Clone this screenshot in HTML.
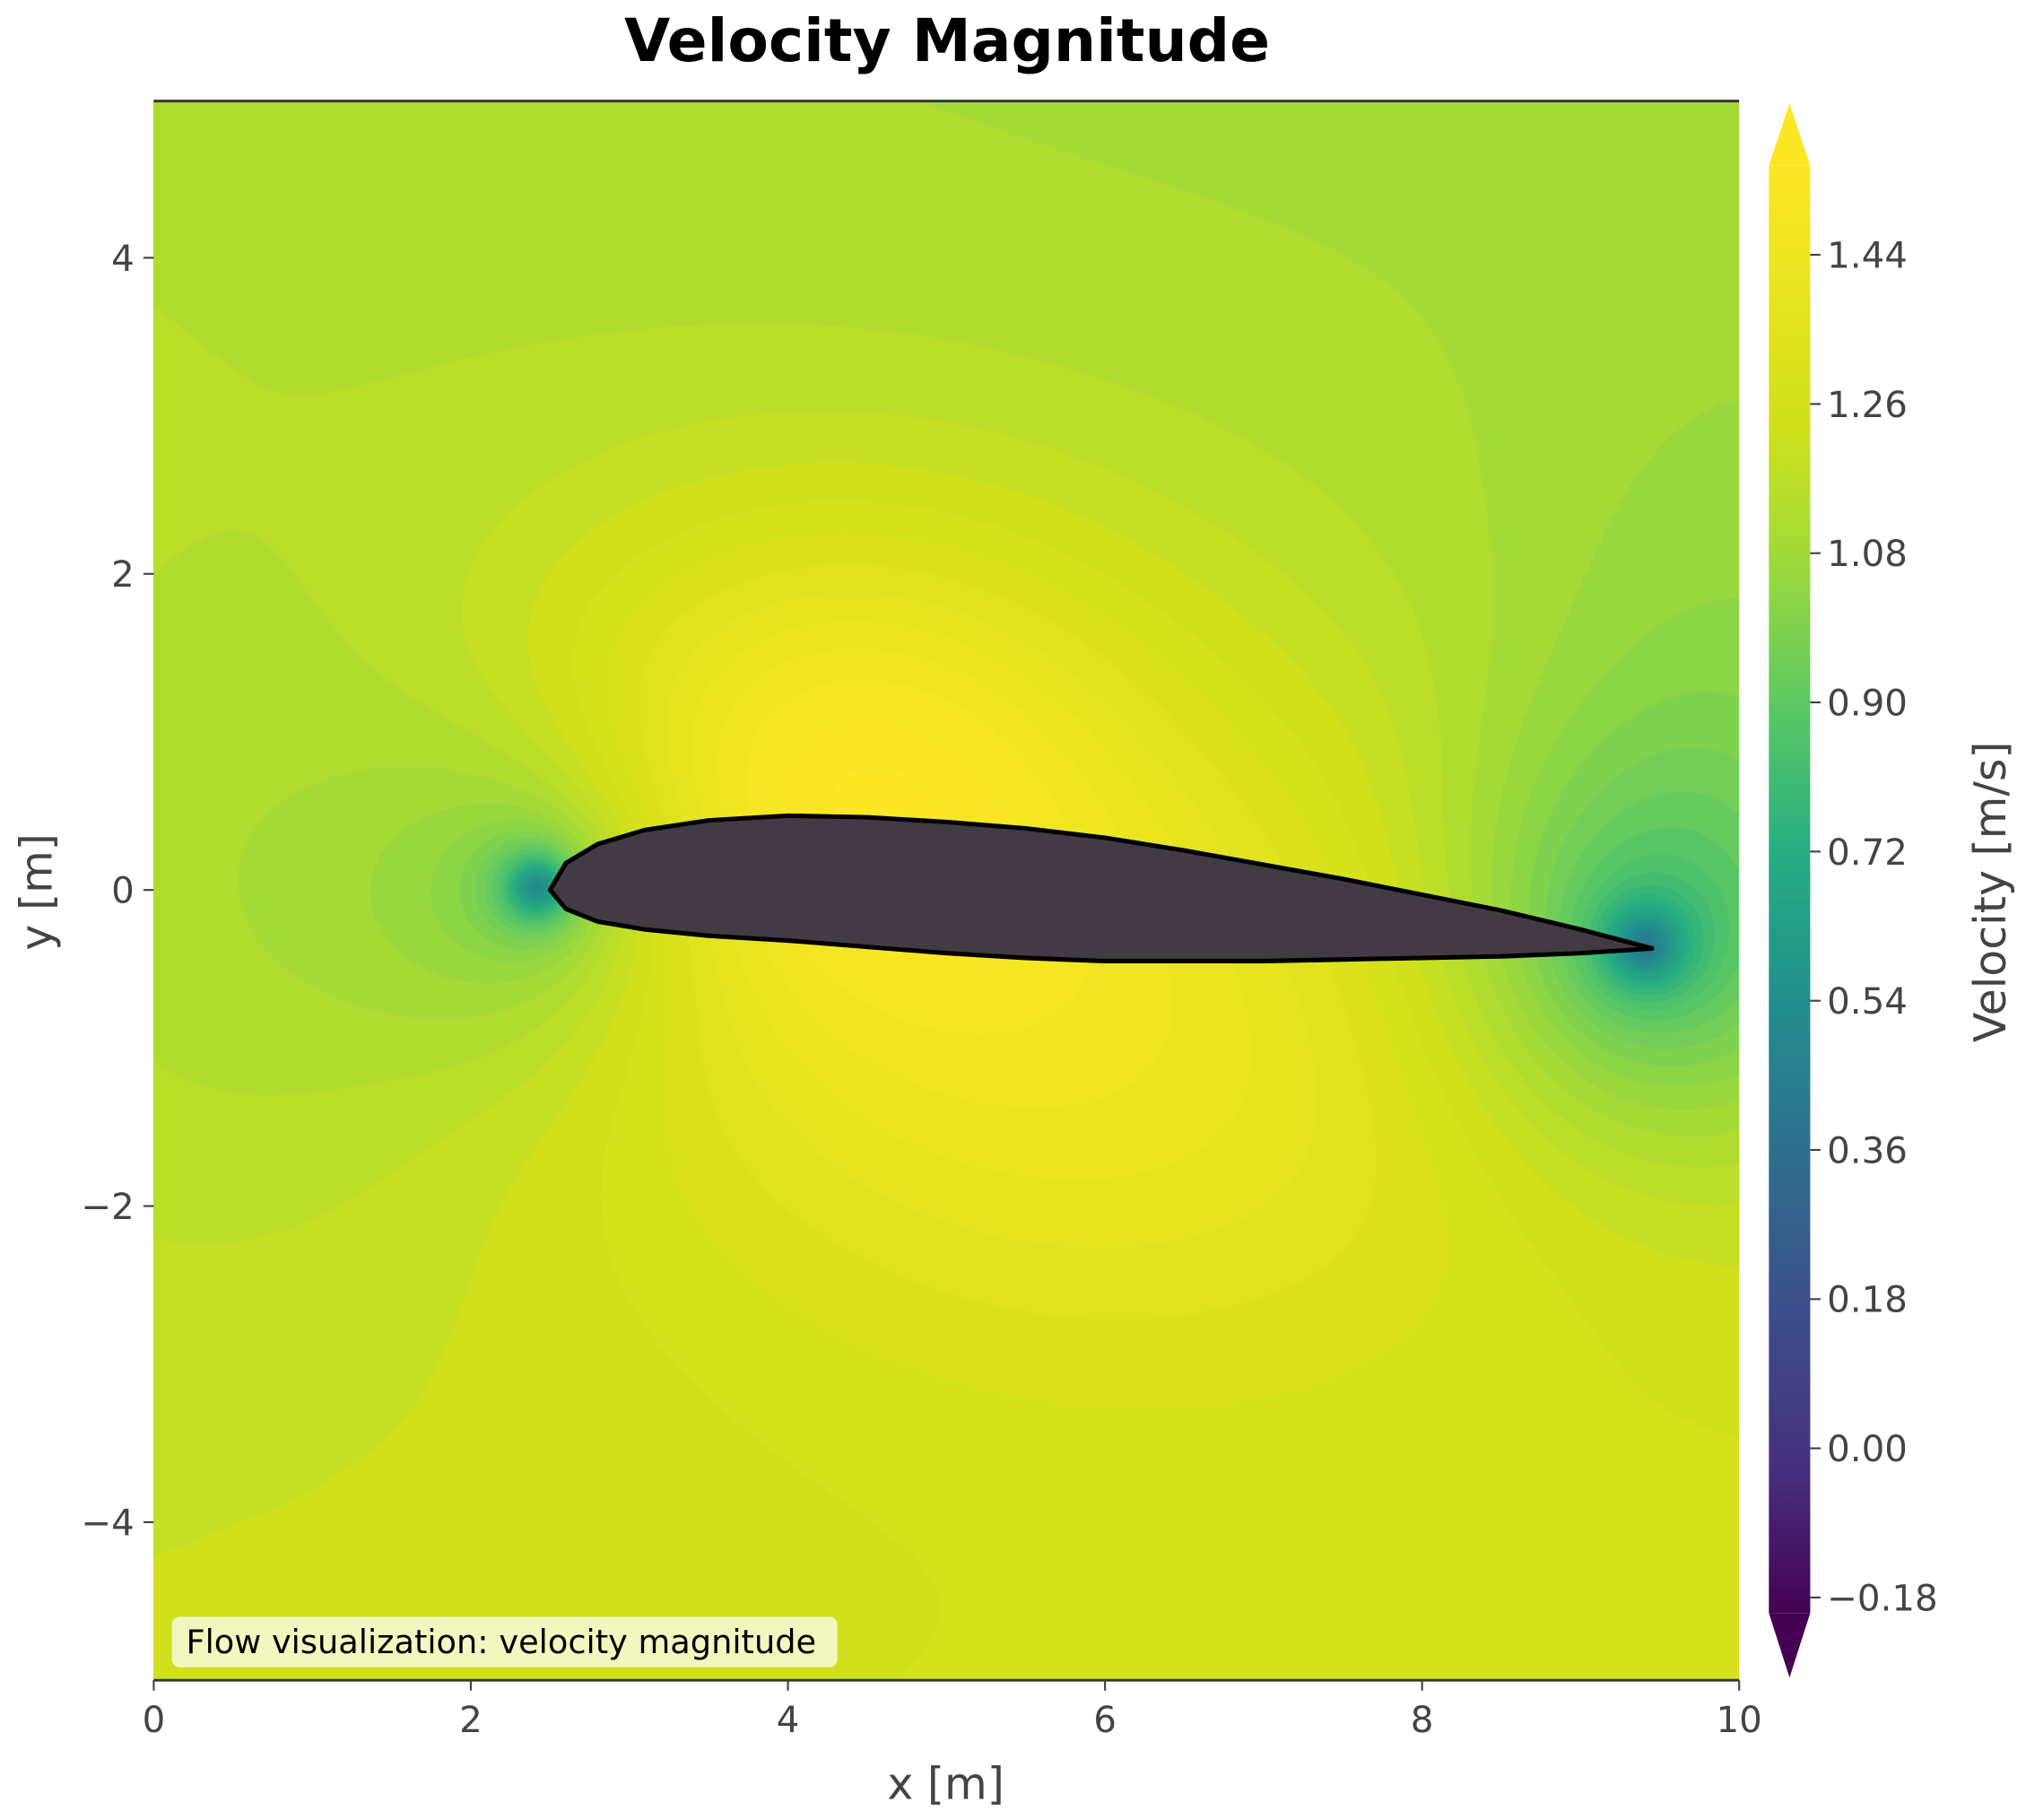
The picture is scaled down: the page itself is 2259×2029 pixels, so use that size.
<!DOCTYPE html>
<html><head><meta charset="utf-8"><style>
html,body{margin:0;padding:0;background:#fff;}
#wrap{position:relative;width:2259px;height:2029px;overflow:hidden;}
#field{position:absolute;left:171px;top:111px;width:1768px;height:1762px;}
#svg{position:absolute;left:0;top:0;}
</style></head><body>
<div id="wrap">
<canvas id="field" width="884" height="881"></canvas>
<svg id="svg" width="2259" height="2029" viewBox="0 0 1568 1408" font-family="'DejaVu Sans', 'Liberation Sans', sans-serif">
<defs>
<linearGradient id="cbg" x1="0" y1="1" x2="0" y2="0">
<stop offset="0" stop-color="#440154"/><stop offset="0.1" stop-color="#46307e"/>
<stop offset="0.22" stop-color="#3b518b"/><stop offset="0.33" stop-color="#2c728e"/>
<stop offset="0.43" stop-color="#21918c"/><stop offset="0.53" stop-color="#28ae80"/>
<stop offset="0.63" stop-color="#5ec962"/><stop offset="0.73" stop-color="#a0da39"/>
<stop offset="0.82" stop-color="#d0e11c"/><stop offset="1" stop-color="#fde725"/>
</linearGradient>
</defs>
<text x="733" y="47" text-anchor="middle" font-size="46" font-weight="bold">Velocity Magnitude</text>
<g id="airfoil-g"></g>
<line x1="119" y1="78" x2="1346" y2="78" stroke="#333" stroke-width="2"/>
<line x1="119" y1="1300" x2="1346" y2="1300" stroke="#333" stroke-width="2"/>
<g id="axes"></g>
<rect x="133" y="1251" width="515" height="39" rx="6" fill="#fff" fill-opacity="0.72"/>
<text x="144" y="1279" font-size="25.5">Flow visualization: velocity magnitude</text>
<text x="732" y="1392" text-anchor="middle" font-size="34" fill="#444">x [m]</text>
<text transform="translate(40 690) rotate(-90)" text-anchor="middle" font-size="34" fill="#444">y [m]</text>
<g>
<rect x="1369" y="128" width="32" height="1120" fill="url(#cbg)"/>
<polygon points="1369,128 1401,128 1385,80" fill="#fde725"/>
<polygon points="1369,1248 1401,1248 1385,1298" fill="#440154"/>
</g>
<g id="cbticks"></g>
<text transform="translate(1552 690) rotate(-90)" text-anchor="middle" font-size="34" fill="#444">Velocity [m/s]</text>
</svg>
</div>
<script>
const xTicks=[0,2,4,6,8,10];
const yTicks=[-4,-2,0,2,4];
const cbTicks=[1.44,1.26,1.08,0.90,0.72,0.54,0.36,0.18,0.00,-0.18];
const upperSurfX=[2.5,2.6,2.8,3.1,3.5,4.0,4.5,5.0,5.5,6.0,6.5,7.0,7.5,8.0,8.5,9.0,9.45];
const upperSurfY=[0.0,0.17,0.29,0.38,0.44,0.47,0.46,0.43,0.39,0.33,0.25,0.16,0.07,-0.03,-0.13,-0.25,-0.37];
const lowerSurfX=[2.5,2.6,2.8,3.1,3.5,4.0,4.5,5.0,5.5,6.0,6.5,7.0,7.5,8.0,8.5,9.0,9.45];
const lowerSurfY=[0.0,-0.12,-0.2,-0.25,-0.29,-0.32,-0.36,-0.4,-0.43,-0.45,-0.45,-0.45,-0.44,-0.43,-0.42,-0.4,-0.37];
const X0=119,X1=1346,Y0=1300,Y1=77;
const sx=v=>X0+(v-0)/(10-0)*(X1-X0);
const sy=v=>Y0-(v+5)/10*(Y0-Y1);
const NS='http://www.w3.org/2000/svg';
const axes=document.getElementById('axes');
function mk(tag,attrs,parent){const e=document.createElementNS(NS,tag);for(const k in attrs)e.setAttribute(k,attrs[k]);parent.appendChild(e);return e;}
xTicks.forEach(v=>{
 const l=mk('line',{x1:sx(v),x2:sx(v),y1:1300,y2:1308,stroke:'#444','stroke-width':1.5},axes);
 
 
 const t=mk('text',{x:sx(v),y:1340,'text-anchor':'middle','font-size':28,fill:'#444'},axes);t.textContent=v;
 
 
});
yTicks.forEach(v=>{
 const l=mk('line',{x1:111,x2:119,y1:sy(v),y2:sy(v),stroke:'#444','stroke-width':1.5},axes);
 
 
 const t=mk('text',{x:104,y:sy(v)+10,'text-anchor':'end','font-size':28,fill:'#444'},axes);t.textContent=v<0?'\u2212'+(-v):v;
 
 
});
const cb=document.getElementById('cbticks');
const cy=v=>197+(1.44-v)/1.62*(1236-197);
cbTicks.forEach(v=>{
 const l=mk('line',{x1:1401,x2:1409,y1:cy(v),y2:cy(v),stroke:'#444','stroke-width':1.5},cb);
 
 
 const t=mk('text',{x:1414,y:cy(v)+10,'font-size':28,fill:'#444'},cb);
 t.textContent=(v<0?'\u2212':'')+Math.abs(v).toFixed(2);
 
 
});
let d='M'+sx(upperSurfX[0])+','+sy(upperSurfY[0]);
for(let i=1;i<upperSurfX.length;i++)d+=' L'+sx(upperSurfX[i])+','+sy(upperSurfY[i]);
for(let i=lowerSurfX.length-1;i>=0;i--)d+=' L'+sx(lowerSurfX[i])+','+sy(lowerSurfY[i]);
d+='Z';
const af=mk('path',{d:d,fill:'#433b44',stroke:'#000','stroke-width':3.5,'stroke-linejoin':'round'},document.getElementById('airfoil-g'));


const vir=[[0,68,1,84],[0.1,70,48,126],[0.22,59,81,139],[0.33,44,114,142],[0.43,33,145,140],[0.53,40,174,128],[0.63,94,201,98],[0.73,160,218,57],[0.82,208,225,28],[0.9,230,228,30],[1,253,231,37]];
function col(t){t=Math.max(0,Math.min(1,t));for(let i=1;i<vir.length;i++){if(t<=vir[i][0]){const a=vir[i-1],b=vir[i],f=(t-a[0])/(b[0]-a[0]);return [a[1]+f*(b[1]-a[1]),a[2]+f*(b[2]-a[2]),a[3]+f*(b[3]-a[3])];}}return [253,231,37];}
function field(x,y){
 let t=0.79;
 t+=0.17*Math.exp(-((x-4.3)**2/4+(y-0.8)**2/2.5));
 t+=0.12*Math.exp(-((x-6)**2/10+(y+1)**2/4));
 t+=0.03*(-y/5)*(x/10)+0.025*(-y/5);
 t-=0.06*Math.exp(-((x-10)**2/3+(y-1)**2/5));
 t-=0.04*Math.exp(-((x-0.8)**2/3+(y+0.2)**2/4));
 const r1=Math.hypot(x-2.42,y-0.02), r2=Math.hypot(x-9.4,y+0.35);
 t-=0.35/(1+(r1/0.2)**2)+0.09*Math.exp(-r1*r1/1.3);
 t-=0.3/(1+(r2/0.22)**2)+0.14*Math.exp(-r2*r2/1.8);
 return t;
}
const cv=document.getElementById('field'),ctx=cv.getContext('2d');
const W=cv.width,H=cv.height,img=ctx.createImageData(W,H);
for(let j=0;j<H;j++)for(let i=0;i<W;i++){
 const x=i/W*10,y=5-j/H*10;
 let t=field(x,y);t=Math.round(t/0.02)*0.02;
 const c=col(t),k=(j*W+i)*4;
 img.data[k]=c[0];img.data[k+1]=c[1];img.data[k+2]=c[2];img.data[k+3]=255;
}
ctx.putImageData(img,0,0);
</script>
</body></html>
